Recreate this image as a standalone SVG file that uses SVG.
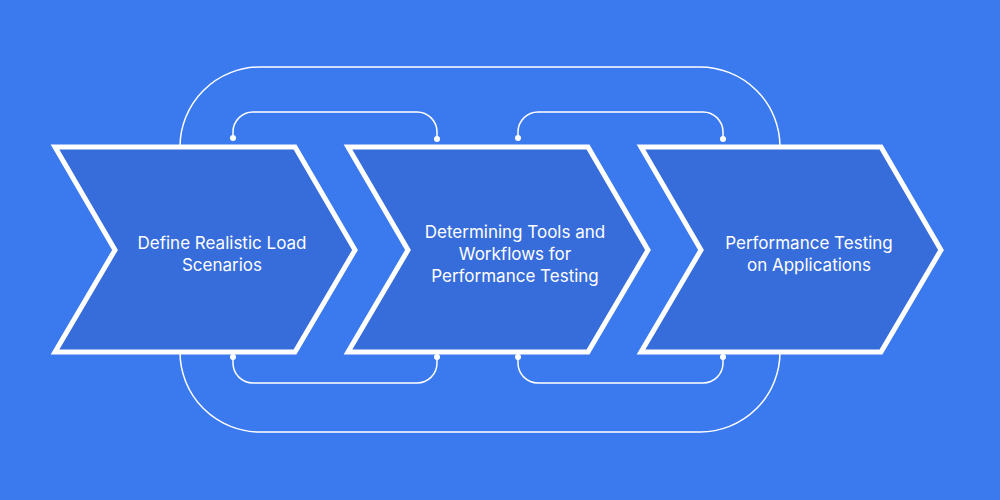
<svg xmlns="http://www.w3.org/2000/svg" width="1000" height="500" viewBox="0 0 1000 500">
<style>
.c{fill:#376cdb;stroke:#fff;stroke-width:5;stroke-linejoin:miter}
.l{fill:none;stroke:#fff;stroke-width:1.5}
.d{fill:#fff}
.t{font-family:Inter,"Liberation Sans",sans-serif;font-size:17px;fill:#fff;text-anchor:middle}
</style>
<rect width="1000" height="500" fill="#3b79ee"/>
<g id="connectors">
<rect class="l" x="180" y="67" width="600" height="365" rx="80"/>
<path class="l" d="M233,138 V132 A20,20 0 0 1 253,112 H417 A20,20 0 0 1 437,132 V139"/>
<path class="l" d="M518,138 V132 A20,20 0 0 1 538,112 H703 A20,20 0 0 1 723,132 V139"/>
<path class="l" d="M233,357 V363 A20,20 0 0 0 253,383 H417 A20,20 0 0 0 437,363 V357"/>
<path class="l" d="M518,357 V363 A20,20 0 0 0 538,383 H703 A20,20 0 0 0 723,363 V357"/>
<circle class="d" cx="233" cy="138" r="3"/><circle class="d" cx="437" cy="139" r="3"/>
<circle class="d" cx="518" cy="138" r="3"/><circle class="d" cx="723" cy="139" r="3"/>
<circle class="d" cx="233" cy="357" r="3"/><circle class="d" cx="437" cy="357" r="3"/>
<circle class="d" cx="518" cy="357" r="3"/><circle class="d" cx="723" cy="357" r="3"/>
</g>
<g id="n1"><polygon class="c" points="55,147 295,147 355,250 295,352 55,352 115,250"/>
<text class="t" x="222" y="249">Define Realistic Load</text><text class="t" x="222" y="271">Scenarios</text></g>
<g id="n2"><polygon class="c" points="348,147 588,147 648,250 588,352 348,352 408,250"/>
<text class="t" x="515" y="238">Determining Tools and</text><text class="t" x="515" y="260">Workflows for</text><text class="t" x="515" y="282">Performance Testing</text></g>
<g id="n3"><polygon class="c" points="641,147 881,147 941,250 881,352 641,352 701,250"/>
<text class="t" x="809" y="249">Performance Testing</text><text class="t" x="809" y="271">on Applications</text></g>
</svg>
